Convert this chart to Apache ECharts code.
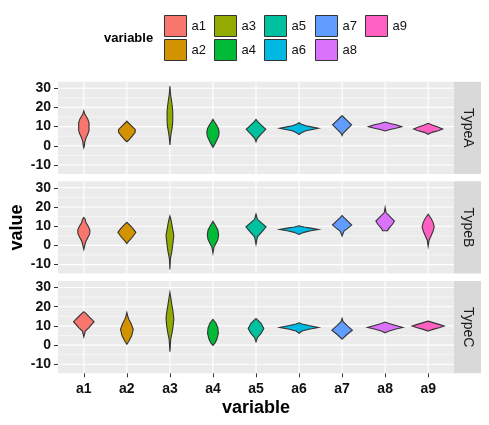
<!DOCTYPE html>
<html>
<head>
<meta charset="utf-8">
<script src="https://cdn.jsdelivr.net/npm/echarts@6/dist/echarts.min.js"></script>
<style>
html,body{margin:0;padding:0;background:#fff;}
#chart{width:489px;height:425px;}
</style>
</head>
<body>
<div id="chart"></div>
<script>
// ---------- data ----------
const categories = ['a1','a2','a3','a4','a5','a6','a7','a8','a9'];
const panels = ['TypeA','TypeB','TypeC'];
const yTickValues = [-10, 0, 10, 20, 30];
const yMinorValues = [-5, 5, 15, 25];

// violin profiles: [value, density(relative half-width)]
const profilesA = [
  [[-1.0,0],[0,0.5],[2,1],[4,2.2],[6,4],[8,5.3],[12,5.3],[14,4],[15.5,2.2],[16.5,1],[18.2,0]],
  [[2.1,0],[3,2],[5,5.5],[7,8.5],[8.5,8.5],[10.5,4.5],[12,1.5],[12.9,0]],
  [[0.4,0],[4,0.6],[7.4,1.5],[10,2.5],[13,2.9],[18,2.9],[21,2.3],[24,1.5],[27,0.6],[31.2,0]],
  [[-0.8,0],[1,2],[3,4],[5,5.8],[7,6.3],[9,5.5],[11,3.5],[12.5,1.5],[13.8,0]],
  [[2.1,0],[4,1.5],[6,5],[8.6,10],[10.5,6],[12.5,2],[13.8,0]],
  [[5.8,0],[6.8,2.5],[7.8,7],[8.6,15],[9.1,19.8],[9.6,15],[10.4,7],[11.2,2.5],[12,0]],
  [[5.3,0],[6.5,1],[8.5,5],[10.9,9.7],[13,5.5],[15,1.5],[15.7,0]],
  [[7.7,0],[8.5,5],[9.3,12],[10,17],[10.8,12],[11.6,5],[12.4,0]],
  [[6,0],[7,4],[8,11],[8.8,14.8],[9.8,10],[10.8,4],[11.7,0]]
];
const profilesB = [
  [[-2.1,0],[0,1],[2,2],[4,4],[6,6],[8,6.2],[10,4.5],[12,2],[13.5,1.5],[14.6,0]],
  [[1.0,0],[2,1.5],[4.5,6],[6.8,9.2],[9.5,5],[12,0]],
  [[-12.5,0],[-7,0.5],[-3,2],[0,2.8],[3,3.5],[5.4,4],[8,3],[11,2],[13.5,1],[15.3,0]],
  [[-4,0],[-1,1],[1,3],[3,5],[5.5,5.8],[8,5],[10,3],[12.5,0]],
  [[0.5,0],[4.5,1.5],[7,6],[9.7,10.3],[12,5],[13.6,1.5],[16.3,0]],
  [[5.7,0],[6.8,5],[7.6,12],[8.3,19.8],[9.0,12],[9.6,5],[10.2,0]],
  [[4.9,0],[7.5,2],[9,6],[10.6,9.8],[12.5,6],[14.5,2],[15.6,0]],
  [[7.6,0],[7.7,2.5],[9,4],[11,7.5],[12.7,9.5],[14.5,6],[16,3],[17,1],[19.8,0]],
  [[-0.4,0],[2.8,1],[5,3],[7.5,5],[9.7,6.2],[12,5],[14,3],[16.2,0]]
];
const profilesC = [
  [[4.3,0],[7.3,1.5],[9,5],[12.2,10.5],[14.5,6],[16.5,2],[17.4,0]],
  [[0.4,0],[2,2],[5,5],[8.2,6.5],[11,4.5],[13.5,2],[15,1],[17,0]],
  [[-3.5,0],[3,0.8],[6,2],[10,3.3],[13.9,4],[18,3],[21,2],[24.4,1],[27.5,0]],
  [[-0.2,0],[1,2],[3,4],[6.1,5.5],[9,5],[11.5,3],[13.4,0]],
  [[1.7,0],[4,1.5],[6,5],[8.7,8],[11.5,5],[13.9,0]],
  [[6.1,0],[7.3,3],[8.3,10],[9.2,19.8],[10.2,10],[11,3],[11.6,0]],
  [[3.1,0],[5.5,5],[7.8,10.5],[10,5.5],[12.2,1],[13.9,0]],
  [[6.4,0],[7.4,4],[8.4,11],[9.2,18],[10.2,11],[11.2,4],[12,0]],
  [[7.3,0],[8.2,5],[9.2,12],[9.9,16.3],[10.8,11],[11.7,5],[12.5,0]]
];
const allProfiles = [profilesA, profilesB, profilesC];

// ---------- style ----------
const colors = ['#F8766D','#D39200','#93AA00','#00BA38','#00C19F','#00B9E3','#619CFF','#DB72FB','#FF61C3'];
const FONT = 'Liberation Sans, Arial, sans-serif';
const gridLeft = 58, gridWidth = 396, gridHeight = 92.3;
const gridTops = [81.7, 181.3, 281];
const Y_MIN = -14.7, Y_MAX = 33.4, X_MIN = 0.4, X_MAX = 9.6;

let maxD = 0;
allProfiles.forEach(p => p.forEach(v => v.forEach(q => { if (q[1] > maxD) maxD = q[1]; })));
const K = 0.45 / maxD;

const grids = [], xAxes = [], yAxes = [], series = [], graphics = [];
panels.forEach((pn, pi) => {
  const last = pi === panels.length - 1;
  grids.push({left: gridLeft, top: gridTops[pi], width: gridWidth, height: gridHeight,
    show: true, backgroundColor: '#EBEBEB', borderWidth: 0, containLabel: false});
  xAxes.push({type: 'value', gridIndex: pi, min: X_MIN, max: X_MAX, position: 'bottom',
    splitLine: {show: false}, axisLine: {show: false, onZero: false},
    axisTick: {show: last, length: 4, lineStyle: {color: '#333', width: 1}, customValues: categories.map((c, i) => i + 1)},
    axisLabel: {show: last, customValues: categories.map((c, i) => i + 1),
      formatter: v => categories[Math.round(v) - 1] || '',
      fontFamily: FONT, fontSize: 14, fontWeight: 'bold', color: '#111', margin: 9}
  });
  yAxes.push({type: 'value', gridIndex: pi, min: Y_MIN, max: Y_MAX, position: 'left',
    splitLine: {show: false}, axisLine: {show: false, onZero: false},
    axisTick: {show: true, length: 4, lineStyle: {color: '#333', width: 1}, customValues: yTickValues},
    axisLabel: {customValues: yTickValues, fontFamily: FONT, fontSize: 14, fontWeight: 'bold', color: '#111', margin: 7}
  });
  // grid lines
  series.push({type: 'custom', xAxisIndex: pi, yAxisIndex: pi, silent: true, z: 1,
    data: yMinorValues.map(v => [v]),
    renderItem: (params, api) => {
      const cs = params.coordSys; const y = api.coord([X_MIN, api.value(0)])[1];
      return {type: 'line', shape: {x1: cs.x, y1: y, x2: cs.x + cs.width, y2: y}, style: {stroke: '#fff', lineWidth: 0.55}};
    }});
  series.push({type: 'custom', xAxisIndex: pi, yAxisIndex: pi, silent: true, z: 1,
    data: yTickValues.map(v => [v]),
    renderItem: (params, api) => {
      const cs = params.coordSys; const y = api.coord([X_MIN, api.value(0)])[1];
      return {type: 'line', shape: {x1: cs.x, y1: y, x2: cs.x + cs.width, y2: y}, style: {stroke: '#fff', lineWidth: 1.1}};
    }});
  series.push({type: 'custom', xAxisIndex: pi, yAxisIndex: pi, silent: true, z: 1,
    data: categories.map((c, i) => [i + 1]),
    renderItem: (params, api) => {
      const cs = params.coordSys; const x = api.coord([api.value(0), Y_MIN])[0];
      return {type: 'line', shape: {x1: x, y1: cs.y, x2: x, y2: cs.y + cs.height}, style: {stroke: '#fff', lineWidth: 1.1}};
    }});
  // violins
  categories.forEach((cat, ci) => {
    const prof = allProfiles[pi][ci];
    series.push({type: 'custom', name: cat, xAxisIndex: pi, yAxisIndex: pi, z: 3, silent: true,
      itemStyle: {color: colors[ci]},
      data: [[ci + 1, prof[0][0]]],
      renderItem: (params, api) => {
        const xc = api.value(0);
        const pts = [];
        prof.forEach(p => pts.push(api.coord([xc + p[1] * K, p[0]])));
        for (let i = prof.length - 1; i >= 0; i--) pts.push(api.coord([xc - prof[i][1] * K, prof[i][0]]));
        return {type: 'polygon', shape: {points: pts},
          style: {fill: colors[ci], stroke: '#333', lineWidth: 1.1, lineJoin: 'miter'}};
      }});
  });
  // strip
  graphics.push({type: 'rect', left: gridLeft + gridWidth, top: gridTops[pi],
    shape: {width: 27, height: gridHeight}, style: {fill: '#D9D9D9'}, silent: true});
  graphics.push({type: 'text', x: gridLeft + gridWidth + 14, y: gridTops[pi] + gridHeight / 2,
    rotation: -Math.PI / 2,
    style: {text: pn, fill: '#1A1A1A', font: '14px ' + FONT, align: 'center', verticalAlign: 'middle'}});
});

// axis titles & legend title
graphics.push({type: 'text', x: 17, y: (gridTops[0] + gridTops[2] + gridHeight) / 2, rotation: Math.PI / 2,
  style: {text: 'value', fill: '#000', font: 'bold 18px ' + FONT, align: 'center', verticalAlign: 'middle'}});
graphics.push({type: 'text', x: gridLeft + gridWidth / 2, y: 408,
  style: {text: 'variable', fill: '#000', font: 'bold 18px ' + FONT, align: 'center', verticalAlign: 'middle'}});
graphics.push({type: 'text', x: 104, y: 38,
  style: {text: 'variable', fill: '#000', font: 'bold 13px ' + FONT, align: 'left', verticalAlign: 'middle'}});

// legends: column-major, 2 rows
const legendCols = [[0,1],[2,3],[4,5],[6,7],[8]];
const legendLefts = [164, 214, 264, 315, 365];
const legends = legendCols.map((col, k) => ({
  orient: 'vertical', left: legendLefts[k], top: 15, padding: 0, itemWidth: 22, itemHeight: 21, itemGap: 2,
  selectedMode: false,
  textStyle: {fontFamily: FONT, fontSize: 13, color: '#111'},
  data: col.map(i => ({name: categories[i], icon: 'rect',
    itemStyle: {color: colors[i], borderColor: '#333', borderWidth: 1}}))
}));

const chart = echarts.init(document.getElementById('chart'), null, {renderer: 'canvas'});
chart.setOption({
  animation: false,
  backgroundColor: '#fff',
  legend: legends,
  grid: grids, xAxis: xAxes, yAxis: yAxes,
  series: series,
  graphic: graphics
});
</script>
</body>
</html>
